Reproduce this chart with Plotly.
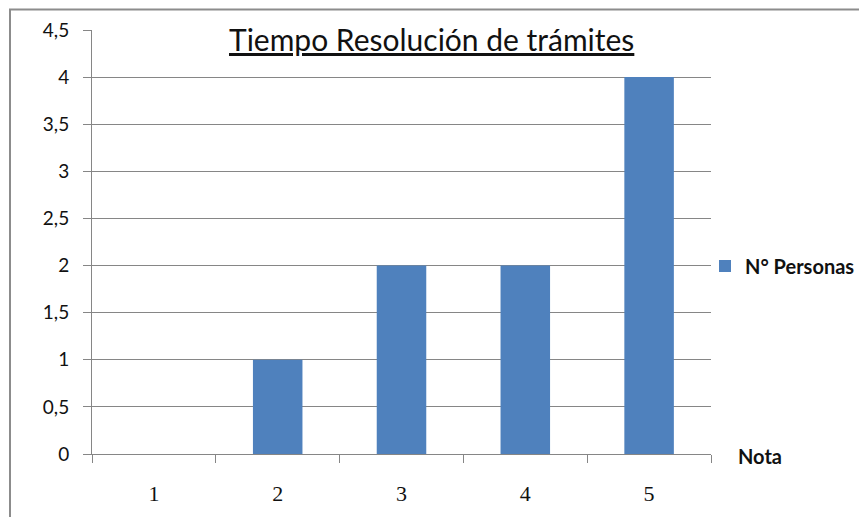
import plotly.graph_objects as go

# Data
notas = [1, 2, 3, 4, 5]
personas = [0, 1, 2, 2, 4]
serie = "N° Personas"
titulo = "Tiempo Resolución de trámites"
eje_x = "Nota"

W, H = 859, 517
L, R, T, B = 92, 148, 30, 63
pw, ph = W - L - R, H - T - B

def px_x(x):
    return (x - L) / pw

def px_y(y):
    return (H - B - y) / ph

font_fam = "Lato, 'Open Sans', sans-serif"
grey = "#868686"

fig = go.Figure()
fig.add_trace(go.Bar(
    x=notas, y=personas, name=serie, width=0.4,
    marker=dict(color="#4F81BD", line=dict(width=0)),
    xaxis="x", yaxis="y",
))
# invisible trace on the overlay axis so the boundary ticks render
fig.add_trace(go.Scatter(x=[notas[0] - 0.5, notas[-1] + 0.5], y=[0, 0], mode="lines",
                         line=dict(width=0), showlegend=False, hoverinfo="skip",
                         xaxis="x2", yaxis="y"))

fig.update_layout(
    width=W, height=H,
    margin=dict(l=L, r=R, t=T, b=B, autoexpand=False),
    paper_bgcolor="white", plot_bgcolor="white",
    separators=",.",
    font=dict(family=font_fam, color="#1a1a1a", size=15),
    showlegend=True,
    bargap=0.6,
    legend=dict(x=px_x(705), y=px_y(266), xanchor="left", yanchor="middle",
                font=dict(size=20, family=font_fam, color="#111", weight="bold"),
                itemwidth=30, bgcolor="rgba(0,0,0,0)"),
    xaxis=dict(range=[0.5, 5.5], tickvals=notas, ticktext=[str(n) for n in notas],
               ticks="", showgrid=False, showline=True, linecolor=grey, linewidth=1,
               zeroline=False, ticklabelstandoff=20,
               tickfont=dict(size=22, family="'Liberation Serif', serif", color="#111")),
    xaxis2=dict(range=[0.5, 5.5], overlaying="x", side="bottom",
                tickvals=[n - 0.5 for n in notas] + [notas[-1] + 0.5],
                ticks="outside", ticklen=8, tickcolor=grey, showticklabels=False,
                showgrid=False, showline=False, zeroline=False),
    yaxis=dict(range=[0, 4.5], dtick=0.5, tick0=0, showgrid=True, gridcolor=grey,
               gridwidth=1, showline=True, linecolor=grey, linewidth=1,
               ticks="outside", ticklen=8, tickcolor=grey, zeroline=False,
               ticklabelstandoff=10,
               tickfont=dict(size=19, family=font_fam, color="#111")),
    annotations=[
        dict(text="<u>" + titulo + "</u>", xref="paper", yref="paper",
             x=px_x(431), y=px_y(39), xanchor="center", yanchor="middle",
             showarrow=False, font=dict(size=30, family=font_fam, color="#111")),
        dict(text="<b>" + eje_x + "</b>", xref="paper", yref="paper",
             x=px_x(736), y=px_y(456), xanchor="left", yanchor="middle",
             showarrow=False, font=dict(size=20, family=font_fam, color="#111")),
    ],
    shapes=[
        dict(type="rect", xref="paper", yref="paper",
             x0=px_x(10), x1=px_x(880), y0=px_y(540), y1=px_y(9.5),
             line=dict(color="#8c8c8c", width=2), fillcolor="rgba(0,0,0,0)", layer="below"),
    ],
)

fig.write_html("out.html")
